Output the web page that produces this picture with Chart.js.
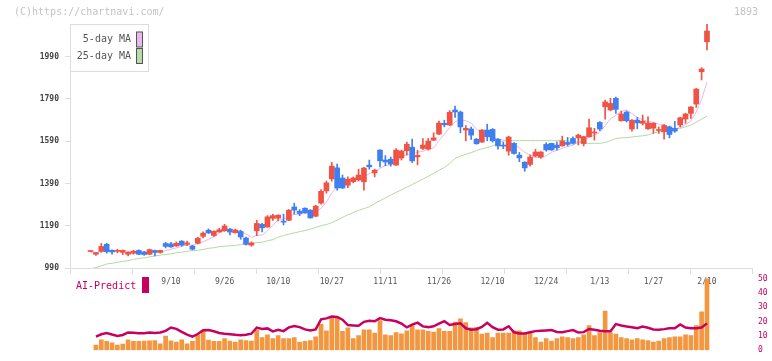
<!DOCTYPE html>
<html><head><meta charset="utf-8">
<script src="https://cdn.jsdelivr.net/npm/chart.js@4.4.1/dist/chart.umd.min.js"></script>
<style>
html,body{margin:0;padding:0;background:#fff;}
#wrap{position:relative;width:772px;height:361px;overflow:hidden;background:#fff;}
#wrap canvas{position:absolute;left:0;top:0;}
</style></head><body>
<div id="wrap">
<canvas id="price" width="772" height="300"></canvas>
<canvas id="vol" width="772" height="361"></canvas>
</div>
<script>
const dates = ['8/20','8/21','8/22','8/25','8/26','8/27','8/28','8/29','9/1','9/2','9/3','9/4','9/5','9/8','9/9','9/10','9/11','9/12','9/16','9/17','9/18','9/19','9/22','9/24','9/25','9/26','9/29','9/30','10/1','10/2','10/3','10/6','10/7','10/8','10/9','10/10','10/14','10/15','10/16','10/17','10/20','10/21','10/22','10/23','10/24','10/27','10/28','10/29','10/30','10/31','11/4','11/5','11/6','11/7','11/10','11/11','11/12','11/13','11/14','11/17','11/18','11/19','11/20','11/21','11/25','11/26','11/27','11/28','12/1','12/2','12/3','12/4','12/5','12/8','12/9','12/10','12/11','12/12','12/15','12/16','12/17','12/18','12/19','12/22','12/23','12/24','12/25','12/26','12/29','12/30','1/5','1/6','1/7','1/8','1/9','1/13','1/14','1/15','1/16','1/19','1/20','1/21','1/22','1/23','1/26','1/27','1/28','1/29','1/30','2/2','2/3','2/4','2/5','2/6','2/9','2/10'];
const xTickLabels = ['9/10','9/26','10/10','10/27','11/11','11/26','12/10','12/24','1/13','1/27','2/10'];
const priceTicks = [990,1190,1390,1590,1790,1990];
const volumeTicks = [0,10,20,30,40,50];

const openP  = [1068,1055,1069,1102,1074,1069,1064,1055,1060,1073,1066,1055,1073,1064,1106,1104,1094,1117,1102,1094,1107,1140,1169,1144,1161,1166,1174,1157,1163,1132,1098,1166,1197,1184,1225,1226,1210,1216,1279,1259,1273,1264,1235,1297,1355,1412,1464,1416,1382,1399,1408,1398,1477,1440,1548,1501,1505,1477,1511,1545,1562,1516,1556,1553,1595,1624,1675,1667,1738,1728,1643,1648,1600,1586,1643,1646,1600,1570,1543,1580,1524,1491,1480,1520,1515,1575,1580,1572,1568,1584,1603,1606,1579,1611,1629,1679,1753,1738,1793,1687,1728,1648,1690,1675,1649,1652,1641,1635,1658,1651,1667,1695,1722,1766,1919,2061];
const highP  = [1071,1063,1106,1107,1076,1079,1075,1067,1074,1076,1069,1080,1075,1074,1112,1112,1113,1120,1117,1098,1136,1161,1175,1166,1178,1197,1178,1174,1169,1136,1114,1216,1202,1238,1245,1242,1245,1266,1297,1267,1275,1266,1287,1361,1402,1490,1482,1430,1421,1421,1458,1467,1501,1458,1550,1522,1515,1555,1548,1586,1600,1548,1603,1603,1630,1685,1690,1735,1757,1733,1664,1657,1603,1645,1671,1650,1603,1586,1614,1584,1537,1493,1524,1551,1541,1583,1581,1587,1614,1608,1611,1624,1614,1695,1651,1683,1785,1793,1799,1733,1733,1693,1703,1714,1706,1678,1658,1669,1662,1684,1704,1723,1754,1840,1938,2145];
const lowP   = [1067,1050,1064,1060,1055,1062,1053,1047,1055,1053,1050,1053,1047,1060,1085,1088,1093,1093,1096,1075,1104,1132,1153,1140,1159,1164,1147,1155,1126,1098,1093,1143,1161,1183,1215,1213,1194,1214,1245,1238,1249,1226,1233,1292,1344,1401,1358,1366,1370,1393,1403,1358,1458,1421,1469,1474,1472,1475,1501,1524,1489,1478,1550,1548,1593,1621,1658,1664,1703,1630,1592,1599,1576,1584,1592,1586,1553,1555,1524,1529,1493,1448,1472,1516,1509,1543,1547,1548,1567,1568,1576,1572,1568,1610,1595,1640,1695,1734,1722,1685,1681,1638,1649,1667,1646,1627,1627,1600,1606,1632,1658,1675,1698,1750,1880,2022];
const closeP = [1071,1063,1092,1067,1066,1073,1073,1064,1069,1055,1054,1077,1064,1073,1092,1090,1107,1098,1109,1079,1131,1155,1156,1164,1171,1189,1160,1169,1137,1102,1109,1201,1180,1232,1238,1240,1207,1264,1264,1248,1252,1227,1283,1353,1393,1472,1369,1369,1410,1416,1430,1463,1469,1453,1497,1492,1482,1548,1544,1576,1497,1523,1572,1591,1606,1676,1668,1727,1729,1658,1651,1619,1578,1643,1611,1592,1568,1567,1610,1532,1511,1464,1515,1539,1539,1549,1549,1559,1591,1575,1580,1619,1612,1654,1631,1648,1776,1769,1741,1719,1687,1690,1677,1685,1676,1675,1644,1665,1622,1638,1701,1719,1752,1837,1932,2112];

const ma5  = [1062,1063,1068,1073,1072,1072,1074,1069,1069,1067,1063,1064,1064,1065,1072,1079,1085,1092,1099,1097,1105,1114,1126,1137,1155,1167,1168,1171,1165,1151,1135,1144,1146,1165,1192,1218,1219,1236,1243,1245,1247,1251,1255,1273,1302,1346,1374,1391,1403,1407,1399,1418,1438,1446,1462,1475,1479,1494,1513,1528,1529,1538,1542,1552,1558,1594,1623,1654,1681,1692,1687,1677,1647,1630,1620,1609,1598,1596,1590,1574,1558,1537,1526,1512,1514,1521,1538,1547,1557,1565,1571,1585,1595,1608,1619,1633,1664,1696,1713,1731,1738,1721,1703,1692,1683,1681,1671,1669,1656,1649,1654,1669,1686,1729,1788,1870];
const ma25 = [986,992,1000,1009,1012,1017,1021,1025,1031,1035,1038,1043,1047,1051,1054,1057,1062,1065,1069,1072,1074,1078,1083,1086,1091,1093,1095,1097,1101,1105,1106,1110,1112,1119,1124,1136,1144,1150,1156,1162,1167,1174,1182,1190,1196,1205,1216,1230,1242,1252,1263,1271,1280,1295,1309,1322,1335,1348,1360,1373,1385,1398,1411,1424,1437,1452,1466,1484,1508,1520,1528,1536,1546,1554,1560,1568,1581,1592,1593,1593,1593,1593,1593,1593,1593,1593,1593,1593,1594,1591,1588,1586,1583,1580,1580,1580,1584,1593,1603,1606,1607,1610,1613,1616,1620,1629,1635,1636,1640,1647,1651,1659,1667,1680,1695,1709];

const volume = [null,3.6,7.3,6.1,5.2,3.6,4.2,7.3,6.1,6.1,6.3,6.5,6.7,4.4,9.8,6.5,5.6,7.3,4.4,6.1,10.8,13.5,7.1,6.1,6.1,8.1,6.3,5.6,7.3,6.7,6.3,14.2,8.8,10.8,8.1,10.2,8.1,8.1,8.8,5.6,6.1,6.7,9.4,18.1,13.5,23.3,23.3,13.1,15.6,8.1,10.2,14.2,14.2,11.9,20.6,10.8,10.2,12.3,11.5,13.5,17.1,14.2,14.2,13.1,12.7,15,13.1,13.1,19.6,21.9,19.2,15.6,16,11.3,11.9,8.8,11.9,11.9,11.9,13.5,13.5,11.5,12.3,8.8,5.6,8.1,6.3,8.1,9.4,8.8,8.1,8.8,10.8,17.1,10.2,12.3,27.3,12.3,11.3,8.8,8.1,7.3,8.1,7.3,6.7,5.6,6.3,8.1,8.8,9.4,9.4,10.8,10.2,17.1,26.7,55];
const aiPredict = [null,9.5,11.1,11.9,10.9,10,10.6,12.4,12.2,11.8,11.9,12.3,12,12.3,13.5,15.8,14.9,12.8,10.9,9.4,11.3,13.9,14.1,13.2,12,11.5,11.1,10.7,10.5,10.8,11.5,15.8,14.8,15.2,13.1,14.2,13.3,15.9,16.8,16.1,14.5,13.7,14.5,21.5,22.2,23.5,23.2,21.3,17.5,17.3,17.1,19.8,20.5,20.2,22.4,21.3,20.9,20.2,18.6,15.9,17.9,19.2,16.6,16.1,16.7,18.5,20.2,17.6,18.2,18.7,15.3,14.3,14.6,16.2,19.1,16,14.3,14.5,16.7,12.5,11.6,11.7,12.5,13.3,13.6,13.8,14,12.7,12.6,13.3,14,12.3,12.6,14.8,14.2,13.5,13.2,13.2,18.2,17.2,16.5,16,15.3,16.5,15.6,14.5,14.2,14.7,15.3,15.3,18,15.8,15.3,15.3,15.8,18.7];

const UP = '#f05244', DOWN = '#3f7ff0';
const MONO = '"DejaVu Sans Mono", "Liberation Mono", monospace';
const X_MIN = -3.84, X_MAX = 123.4;
const idx = dates.map((d, i) => i);
const candleColors = idx.map(i => closeP[i] >= openP[i] ? UP : DOWN);

Chart.defaults.font.family = MONO;
Chart.defaults.animation = false;

const topDecor = {
  id: 'topDecor',
  afterDraw(chart) {
    const ctx = chart.ctx;
    ctx.save();
    ctx.font = '10px ' + MONO;
    ctx.textBaseline = 'middle';
    ctx.fillStyle = '#c4c4c4';
    ctx.textAlign = 'left';
    ctx.fillText('(C)https://chartnavi.com/', 14, 12);
    ctx.textAlign = 'right';
    ctx.fillText('1893', 758, 12);
    const ds = chart.data.datasets.filter(d => d.type === 'line');
    ctx.fillStyle = '#ffffff';
    ctx.fillRect(70, 24, 78, 48);
    ctx.strokeStyle = '#dcdcdc';
    ctx.lineWidth = 1;
    ctx.strokeRect(70.5, 24.5, 78, 47);
    ds.forEach((d, k) => {
      const cy = 39.5 + k * 16.5;
      ctx.fillStyle = '#555';
      ctx.textAlign = 'right';
      ctx.font = '10px ' + MONO;
      ctx.fillText(d.label, 131, cy);
      ctx.fillStyle = d.legendFill;
      ctx.fillRect(136.5, cy - 7.5, 6, 15);
      ctx.strokeStyle = '#555';
      ctx.strokeRect(136.5, cy - 7.5, 6, 15);
    });
    ctx.restore();
  }
};

new Chart(document.getElementById('price'), {
  type: 'bar',
  data: {
    datasets: [
      { label: 'body', xAxisID: 'x', yAxisID: 'y', data: idx.map(i => ({x: i, y: [openP[i], closeP[i]]})), backgroundColor: candleColors, barThickness: 5, minBarLength: 1, grouped: false, order: 1 },
      { label: 'wick', xAxisID: 'x', yAxisID: 'y', data: idx.map(i => ({x: i, y: [lowP[i], highP[i]]})), backgroundColor: candleColors, barThickness: 1, grouped: false, order: 2 },
      { type: 'line', label: '5-day MA', xAxisID: 'x', yAxisID: 'y', data: idx.map(i => ({x: i, y: ma5[i]})), borderColor: '#e9b6ea', legendFill: '#eab8ea', borderWidth: 1, pointRadius: 0, tension: 0, order: 3 },
      { type: 'line', label: '25-day MA', xAxisID: 'x', yAxisID: 'y', data: idx.map(i => ({x: i, y: ma25[i]})), borderColor: '#b3d9a3', legendFill: '#b7dca8', borderWidth: 1, pointRadius: 0, tension: 0, order: 4 }
    ]
  },
  options: {
    responsive: false,
    animation: false,
    layout: { padding: { left: 0, top: 24, right: 20, bottom: 0 } },
    plugins: { legend: { display: false }, tooltip: { enabled: false } },
    scales: {
      xt: {
        type: 'linear', position: 'bottom', weight: 0, min: 0, max: 11, offset: false,
        afterBuildTicks: s => { s.ticks = Array.from({length: 12}, (_, k) => ({value: k})); },
        afterFit: s => { s.height = 6; },
        ticks: { display: false },
        grid: { drawOnChartArea: false, drawTicks: true, tickLength: 6, color: '#dddddd', offset: false },
        border: { display: true, color: '#dddddd' }
      },
      x: {
        type: 'linear', position: 'bottom', weight: 1, min: X_MIN, max: X_MAX, offset: false,
        afterBuildTicks: s => { s.ticks = xTickLabels.map(l => ({value: dates.indexOf(l)})); },
        afterFit: s => { s.height = 26; },
        ticks: { autoSkip: false, maxRotation: 0, minRotation: 0, padding: 3.5, color: '#555', font: { size: 8, family: MONO }, callback: v => dates[v] },
        grid: { display: false, drawTicks: false },
        border: { display: false }
      },
      y: {
        type: 'linear', position: 'left', min: 990, max: 2145,
        afterBuildTicks: s => { s.ticks = priceTicks.map(v => ({value: v})); },
        afterFit: s => { s.width = 70; },
        ticks: { padding: 6, color: '#444', font: { size: 8, family: MONO, weight: 'bold' }, callback: v => String(v) },
        grid: { drawOnChartArea: false, drawTicks: true, tickLength: 5, color: '#dddddd' },
        border: { display: true, color: '#dddddd' }
      }
    }
  },
  plugins: [topDecor]
});

const volDecor = {
  id: 'volDecor',
  afterDraw(chart) {
    const ctx = chart.ctx;
    const d = chart.data.datasets.find(s => s.type === 'line');
    ctx.save();
    ctx.font = '10px ' + MONO;
    ctx.textBaseline = 'middle';
    ctx.textAlign = 'left';
    ctx.fillStyle = d.borderColor;
    ctx.fillText(d.label, 76, 286);
    ctx.fillRect(142, 277, 7, 16);
    ctx.restore();
  }
};

new Chart(document.getElementById('vol'), {
  type: 'bar',
  data: {
    datasets: [
      { type: 'line', label: 'AI-Predict', xAxisID: 'x', yAxisID: 'yv', data: idx.map(i => ({x: i, y: aiPredict[i]})), borderColor: '#c8005f', borderWidth: 2.5, pointRadius: 0, tension: 0, order: 0 },
      { label: 'Volume', xAxisID: 'x', yAxisID: 'yv', data: idx.map(i => ({x: i, y: volume[i]})), backgroundColor: '#f2963f', barThickness: 4, grouped: false, order: 1 }
    ]
  },
  options: {
    responsive: false,
    animation: false,
    layout: { padding: { left: 70, top: 278.5, right: 0, bottom: 2.5 } },
    plugins: { legend: { display: false }, tooltip: { enabled: false } },
    scales: {
      x: { type: 'linear', display: false, min: X_MIN, max: X_MAX, offset: false },
      yv: {
        type: 'linear', position: 'right', min: 0, max: 50,
        afterBuildTicks: s => { s.ticks = volumeTicks.map(v => ({value: v})); },
        afterFit: s => { s.width = 20; },
        ticks: { padding: 6, color: '#c8005f', font: { size: 8, family: MONO }, callback: v => String(v) },
        grid: { display: false, drawTicks: false },
        border: { display: false }
      }
    }
  },
  plugins: [volDecor]
});
</script>
</body></html>
